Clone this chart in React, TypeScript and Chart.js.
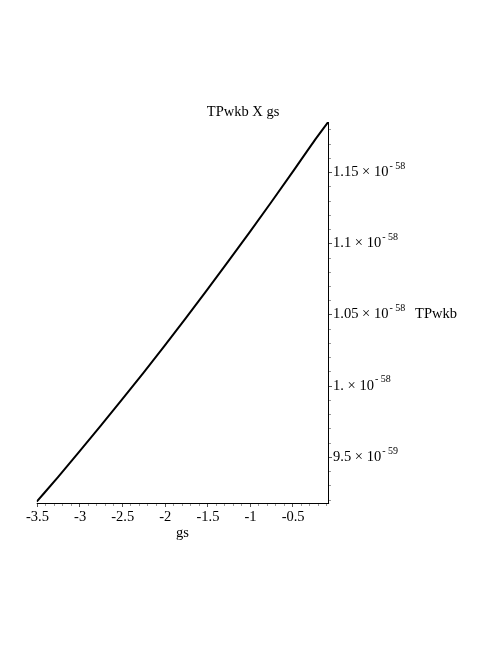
import React, { useEffect, useRef } from "react";
import { Chart, registerables } from "chart.js";

Chart.register(...registerables);

// gs values (x) and TPwkb values in units of 1e-58 (y)
const gsValues = [-3.5, -3.25, -3.0, -2.75, -2.5, -2.25, -2.0, -1.75, -1.5, -1.25, -1.0, -0.75, -0.5, -0.25, -0.08];
const tpwkbValues = [0.9186, 0.9359, 0.9537, 0.9718, 0.9902, 1.0089, 1.028, 1.0475, 1.0673, 1.0874, 1.1078, 1.1286, 1.1497, 1.1712, 1.185];

const xTickValues = [-3.5, -3, -2.5, -2, -1.5, -1, -0.5];
const xTickLabels = ["-3.5", "-3", "-2.5", "-2", "-1.5", "-1", "-0.5"];

const yTickValues = [0.95, 1.0, 1.05, 1.1, 1.15];
const yTickMantissas = ["9.5", "1.", "1.05", "1.1", "1.15"];
const yTickExponents = ["-59", "-58", "-58", "-58", "-58"];

const titleText = "TPwkb X gs";
const xAxisTitle = "gs";
const yAxisTitle = "TPwkb";

const X_MIN = -3.5;
const X_MAX = -0.08;
const Y_MIN = 0.9177;
const Y_MAX = 1.1851;

const FONT = '14.5px "Liberation Serif", "Times New Roman", serif';
const SMALL_FONT = '10px "Liberation Serif", "Times New Roman", serif';

const axesPlugin = {
  id: "mmaAxes",
  afterDraw(chart: any) {
    const { ctx, chartArea: a, scales } = chart;
    const xs = scales.x;
    const ys = scales.y;
    ctx.save();
    // axis lines
    ctx.strokeStyle = "#000";
    ctx.lineWidth = 1;
    ctx.beginPath();
    ctx.moveTo(a.left, Math.round(a.bottom) + 0.5);
    ctx.lineTo(a.right + 1, Math.round(a.bottom) + 0.5);
    ctx.moveTo(Math.round(a.right) + 0.5, a.top);
    ctx.lineTo(Math.round(a.right) + 0.5, a.bottom + 1);
    ctx.stroke();

    // x ticks (below axis)
    for (let k = -35; k <= -1; k++) {
      const v = k / 10;
      const major = k % 5 === 0;
      const px = Math.round(xs.getPixelForValue(v)) + 0.5;
      ctx.strokeStyle = major ? "#555" : "#999";
      ctx.beginPath();
      ctx.moveTo(px, Math.round(a.bottom) + 1);
      ctx.lineTo(px, Math.round(a.bottom) + (major ? 4 : 3));
      ctx.stroke();
    }
    // y ticks (right of axis)
    for (let k = 92; k <= 118; k++) {
      const v = k / 100;
      const major = k % 5 === 0;
      const py = Math.round(ys.getPixelForValue(v)) + 0.5;
      ctx.strokeStyle = major ? "#555" : "#999";
      ctx.beginPath();
      ctx.moveTo(Math.round(a.right) + 1, py);
      ctx.lineTo(Math.round(a.right) + (major ? 4 : 3), py);
      ctx.stroke();
    }

    ctx.fillStyle = "#000";
    // x tick labels
    ctx.font = FONT;
    ctx.textAlign = "center";
    ctx.textBaseline = "middle";
    xTickValues.forEach((v, i) => {
      const px = xs.getPixelForValue(v);
      ctx.fillText(xTickLabels[i], px + 0.8, a.bottom + 14);
    });
    // x axis title
    ctx.textBaseline = "alphabetic";
    ctx.fillText(xAxisTitle, (a.left + a.right) / 2, a.bottom + 33.5);

    // y tick labels with superscript exponents
    ctx.textAlign = "left";
    ctx.textBaseline = "middle";
    yTickValues.forEach((v, i) => {
      const py = ys.getPixelForValue(v);
      const x0 = a.right + 5;
      const m = `${yTickMantissas[i]} \u00d7 10`;
      ctx.font = FONT;
      ctx.fillText(m, x0, py);
      const w = ctx.measureText(m).width;
      ctx.font = SMALL_FONT;
      ctx.fillText(yTickExponents[i].replace("-", "- "), x0 + w + 1, py - 6);
    });

    // y axis title
    ctx.font = FONT;
    ctx.textAlign = "left";
    ctx.fillText(yAxisTitle, a.right + 87, (a.top + a.bottom) / 2 + 1.5);

    // plot title
    ctx.textAlign = "center";
    ctx.textBaseline = "alphabetic";
    ctx.fillText(titleText, a.right - 85, a.top - 6);
    ctx.restore();
  },
};

export default function App() {
  const canvasRef = useRef<HTMLCanvasElement | null>(null);

  useEffect(() => {
    if (!canvasRef.current) return;
    const chart = new Chart(canvasRef.current, {
      type: "line",
      data: {
        datasets: [
          {
            data: gsValues.map((x, i) => ({ x, y: tpwkbValues[i] })),
            borderColor: "#000",
            borderWidth: 2,
            pointRadius: 0,
            cubicInterpolationMode: "monotone",
            fill: false,
          },
        ],
      },
      options: {
        responsive: false,
        animation: false,
        devicePixelRatio: 1,
        layout: { padding: { left: 36.7, right: 169.9, top: 122, bottom: 142 } },
        plugins: {
          legend: { display: false },
          title: { display: false },
          tooltip: { enabled: false },
        },
        scales: {
          x: {
            type: "linear",
            min: X_MIN,
            max: X_MAX,
            display: false,
            afterBuildTicks: (s: any) => {
              s.ticks = xTickValues.map((value) => ({ value }));
            },
          },
          y: {
            type: "linear",
            position: "right",
            min: Y_MIN,
            max: Y_MAX,
            display: false,
            afterBuildTicks: (s: any) => {
              s.ticks = yTickValues.map((value) => ({ value }));
            },
          },
        },
      },
      plugins: [axesPlugin],
    } as any);
    return () => chart.destroy();
  }, []);

  return (
    <div style={{ position: "fixed", left: 0, top: 0, width: 498, height: 645, background: "#fff" }}>
      <canvas ref={canvasRef} width={498} height={645} style={{ display: "block", width: 498, height: 645 }} />
    </div>
  );
}
